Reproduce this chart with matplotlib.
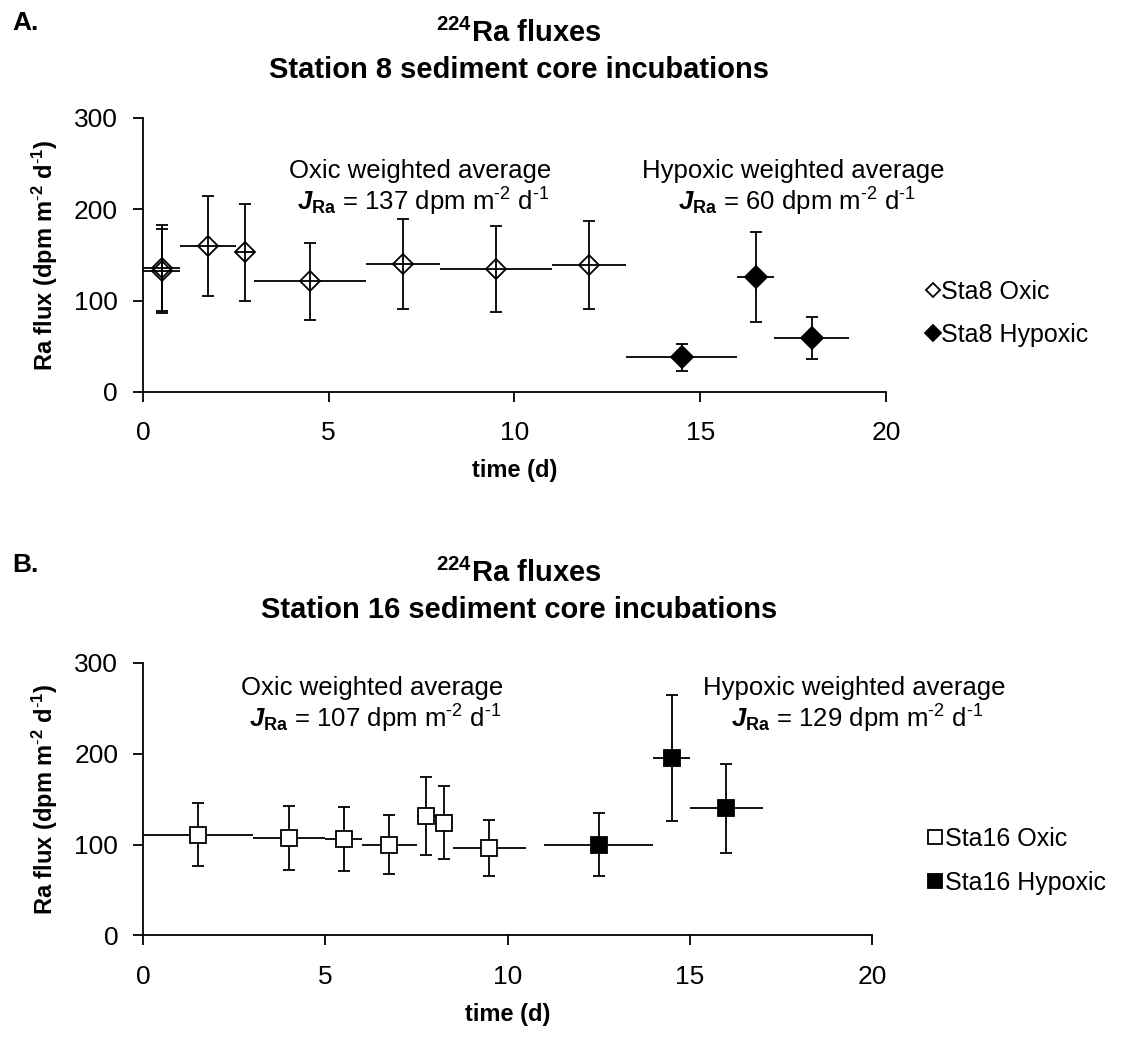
import matplotlib
matplotlib.use("Agg")
import matplotlib.pyplot as plt
from matplotlib.lines import Line2D

plt.rcParams["font.family"] = ["Liberation Sans", "DejaVu Sans"]
plt.rcParams["mathtext.fontset"] = "custom"
plt.rcParams["mathtext.rm"] = "Liberation Sans"
plt.rcParams["mathtext.it"] = "Liberation Sans:italic"
plt.rcParams["mathtext.bf"] = "Liberation Sans:bold"
plt.rcParams["mathtext.bfit"] = "Liberation Sans:italic:bold"

# Station 8 incubations (time midpoint, half interval, flux, 1-sigma)
s8_oxic_t = [0.5, 0.5, 1.75, 2.75, 4.5, 7.0, 9.5, 12.0]
s8_oxic_dt = [0.5, 0.5, 0.75, 0.25, 1.5, 1.0, 1.5, 1.0]
s8_oxic_flux = [136, 133, 160, 153, 121, 140, 135, 139]
s8_oxic_err = [47, 46, 55, 53, 42, 49, 47, 48]

s8_hyp_t = [14.5, 16.5, 18.0]
s8_hyp_dt = [1.5, 0.5, 1.0]
s8_hyp_flux = [38, 126, 59]
s8_hyp_err = [15, 49, 23]

# Station 16 incubations
s16_oxic_t = [1.5, 4.0, 5.5, 6.75, 7.75, 8.25, 9.5]
s16_oxic_dt = [1.5, 1.0, 0.5, 0.75, 0.25, 0.25, 1.0]
s16_oxic_flux = [111, 107, 106, 100, 131, 124, 96]
s16_oxic_err = [35, 35, 35, 32, 43, 40, 31]

s16_hyp_t = [12.5, 14.5, 16.0]
s16_hyp_dt = [1.5, 0.5, 1.0]
s16_hyp_flux = [100, 195, 140]
s16_hyp_err = [35, 69, 49]

avg_text = {
    "A": [("Oxic", 137, 7.45), ("Hypoxic", 60, 17.5)],
    "B": [("Oxic", 107, 6.27), ("Hypoxic", 129, 19.5)],
}

LW = 1.3


def draw(ax, t, dt, flux, err, marker, ms, face):
    ax.errorbar(t, flux, xerr=dt, fmt="none", ecolor="black", elinewidth=LW, capsize=0, zorder=3)
    ax.errorbar(t, flux, yerr=err, fmt="none", ecolor="black", elinewidth=LW,
                capsize=4, capthick=LW, zorder=3)
    ax.plot(t, flux, linestyle="none", marker=marker, ms=ms, mfc=face, mec="black",
            mew=LW, zorder=2 if face == "none" else 4)


def style(ax, xmax):
    ax.set_xlim(0, xmax)
    ax.set_ylim(0, 300)
    ax.set_xticks([0, 5, 10, 15, 20])
    ax.set_yticks([0, 100, 200, 300])
    for s in ["top", "right"]:
        ax.spines[s].set_visible(False)
    for s in ["left", "bottom"]:
        ax.spines[s].set_linewidth(LW)
    ax.tick_params(direction="out", length=7, width=LW, labelsize=19, pad=11)
    ax.tick_params(axis="x", pad=14)
    ax.set_xlabel("time (d)", fontsize=17, fontweight="bold", labelpad=10)
    ax.set_ylabel(r"Ra flux (dpm m$\mathbf{^{\text{-}2}}$ d$\mathbf{^{\text{-}1}}$)",
                  fontsize=17, fontweight="bold", labelpad=10)


def annotate(ax, entries, y1, y2):
    for name, val, xc in entries:
        ax.text(xc, y1, f"{name} weighted average", ha="center", va="baseline",
                fontsize=18.5, clip_on=False)
        ax.text(xc + 0.1, y2, r"$\mathbfit{J}_{\mathbf{Ra}}$" + f" = {val} dpm m" +
                r"$^{\text{-}2}$ d$^{\text{-}1}$", ha="center", va="baseline",
                fontsize=18.5, clip_on=False)


fig = plt.figure(figsize=(11.24, 10.47), dpi=100)

# panel A
axA = fig.add_axes([0.1272, 0.6256, 0.661, 0.2617])
draw(axA, s8_oxic_t, s8_oxic_dt, s8_oxic_flux, s8_oxic_err, "D", 10.5, "none")
draw(axA, s8_hyp_t, s8_hyp_dt, s8_hyp_flux, s8_hyp_err, "D", 11.5, "black")
style(axA, 20)
annotate(axA, avg_text["A"], 234, 199)
hA = [Line2D([], [], ls="none", marker="D", ms=7, mfc="white", mec="black", mew=LW),
      Line2D([], [], ls="none", marker="D", ms=8.5, mfc="black", mec="black", mew=LW)]
fig.legend(hA, ["Sta8 Oxic", "Sta8 Hypoxic"], loc="center left",
           bbox_to_anchor=(0.813, 0.7006), frameon=False, fontsize=18,
           handlelength=0.55, handletextpad=0.05, borderpad=0, labelspacing=0.75)

# panel B
axB = fig.add_axes([0.1275, 0.1065, 0.6483, 0.2607])
draw(axB, s16_oxic_t, s16_oxic_dt, s16_oxic_flux, s16_oxic_err, "s", 11.5, "white")
draw(axB, s16_hyp_t, s16_hyp_dt, s16_hyp_flux, s16_hyp_err, "s", 11.5, "black")
style(axB, 20)
annotate(axB, avg_text["B"], 264, 229)
hB = [Line2D([], [], ls="none", marker="s", ms=10.5, mfc="white", mec="black", mew=LW),
      Line2D([], [], ls="none", marker="s", ms=10.5, mfc="black", mec="black", mew=LW)]
fig.legend(hB, ["Sta16 Oxic", "Sta16 Hypoxic"], loc="center left",
           bbox_to_anchor=(0.814, 0.178), frameon=False, fontsize=18,
           handlelength=0.6, handletextpad=0.1, borderpad=0, labelspacing=0.8)

# titles and panel letters
for ytop, station, letter, yl in [(0.9599, "8", "A.", 0.9713), (0.4441, "16", "B.", 0.454)]:
    fig.text(0.4617, ytop, r"$\mathbf{^{224}}$Ra fluxes", ha="center", va="baseline",
             fontsize=21, fontweight="bold")
    fig.text(0.4617, ytop - 0.0344, f"Station {station} sediment core incubations",
             ha="center", va="baseline", fontsize=21, fontweight="bold")
    fig.text(0.0107, yl, letter, ha="left", va="baseline", fontsize=19, fontweight="bold")

fig.savefig("out.png", dpi=100)
